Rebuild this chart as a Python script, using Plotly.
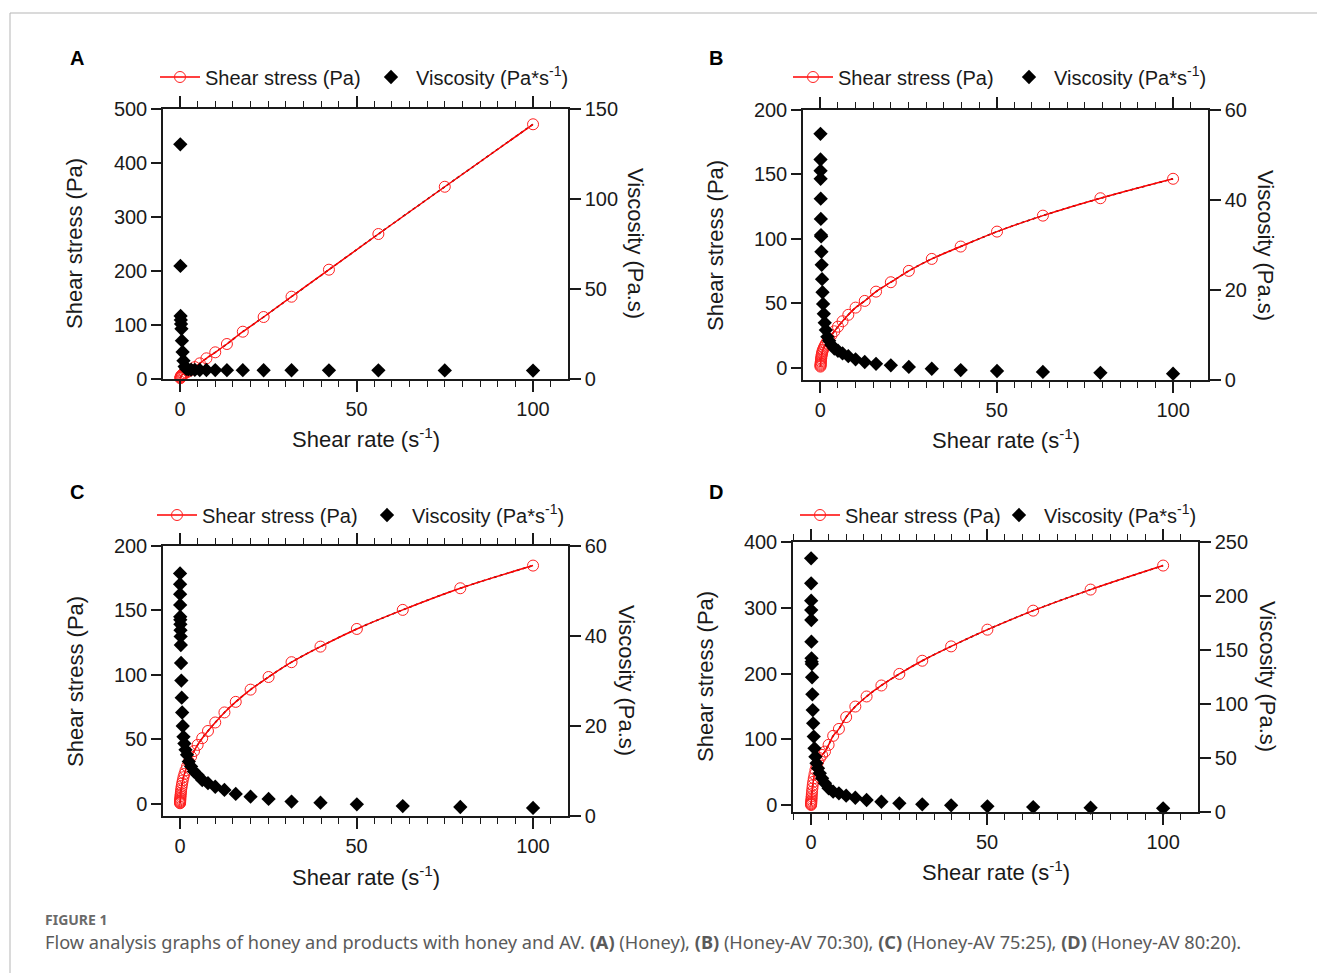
import plotly.graph_objects as go

W, H = 1317, 973
FONT = "Liberation Sans, Arial, sans-serif"
INK = "#1a1a1a"

# ---------------- data ----------------
# Panel A (Honey)
rate_A = [0.1, 0.133, 0.178, 0.237, 0.316, 0.422, 0.562, 0.75, 1.0, 1.33, 1.78, 2.37,
          3.16, 4.22, 5.62, 7.5, 10.0, 13.3, 17.8, 23.7, 31.6, 42.2, 56.2, 75.0, 100.0]
stress_A = [1.5, 2.5, 3.5, 4.5, 5.5, 6.5, 7.5, 8.5, 9.5, 10.5, 12.0, 14.0,
            17.0, 22.0, 29.0, 38.3, 49.4, 64.8, 87.6, 114.8, 152.4, 202.4, 268.5, 356.0, 471.7]
visc_A = [130.4, 62.8, 35.0, 32.8, 30.6, 27.9, 21.3, 15.0, 10.2, 6.9, 5.6, 5.3,
          5.2, 5.1, 5.0, 5.0, 4.95, 4.9, 4.9, 4.85, 4.85, 4.8, 4.8, 4.75, 4.7]

# Panel B (Honey-AV 70:30)
rate_B = [0.0501, 0.0631, 0.0794, 0.1, 0.126, 0.158, 0.2, 0.251, 0.316, 0.398, 0.501, 0.631,
          0.794, 1.0, 1.26, 1.58, 2.0, 2.51, 3.16, 3.98, 5.01, 6.31, 7.94, 10.0, 12.6, 15.8,
          20.0, 25.1, 31.6, 39.8, 50.1, 63.1, 79.4, 100.0]
stress_B = [0.8, 1.5, 2.2, 3.0, 3.9, 4.9, 6.0, 7.2, 8.5, 9.9, 11.3, 12.7,
            14.0, 15.5, 17.0, 18.6, 20.5, 22.6, 25.2, 28.2, 31.8, 36.0, 41.0, 46.6, 51.8, 59.0,
            66.3, 75.1, 84.4, 94.0, 105.6, 118.0, 131.5, 146.6]
visc_B = [54.7, 49.0, 46.5, 44.7, 40.3, 35.8, 32.2, 31.9, 28.5, 25.6, 22.4, 19.5,
          16.9, 14.7, 12.7, 11.1, 9.6, 8.7, 7.8, 7.0, 6.5, 5.9, 5.3, 4.6, 4.0, 3.6,
          3.25, 2.9, 2.5, 2.2, 2.0, 1.8, 1.6, 1.4]

# Panel C (Honey-AV 75:25)
rate_C = [0.0316, 0.0398, 0.0501, 0.0631, 0.0794, 0.1, 0.126, 0.158, 0.2, 0.251, 0.316, 0.398,
          0.501, 0.631, 0.794, 1.0, 1.26, 1.58, 2.0, 2.51, 3.16, 3.98, 5.01, 6.31, 7.94, 10.0,
          12.6, 15.8, 20.0, 25.1, 31.6, 39.8, 50.1, 63.1, 79.4, 100.0]
stress_C = [0.3, 0.8, 1.3, 1.9, 2.6, 3.5, 4.5, 5.7, 7.0, 8.4, 10.0, 11.8,
            13.7, 15.8, 18.0, 20.5, 23.0, 25.8, 28.9, 32.6, 36.5, 40.8, 45.6, 50.8, 56.4, 63.0,
            70.8, 79.0, 88.5, 98.3, 109.8, 121.9, 135.6, 150.4, 167.2, 184.8]
visc_C = [53.9, 51.5, 49.3, 46.9, 44.3, 43.6, 42.6, 41.3, 39.9, 38.0, 34.0, 30.1,
          26.3, 23.0, 20.0, 17.6, 16.1, 14.7, 13.6, 12.1, 11.0, 9.9, 9.1, 8.0, 7.3, 6.5,
          5.8, 4.9, 4.3, 3.8, 3.2, 2.96, 2.6, 2.2, 2.0, 1.8]

# Panel D (Honey-AV 80:20)
rate_D = [0.0398, 0.0501, 0.0631, 0.0794, 0.1, 0.126, 0.158, 0.2, 0.251, 0.316, 0.398, 0.501,
          0.631, 0.794, 1.0, 1.26, 1.58, 2.0, 2.51, 3.16, 3.98, 5.01, 6.31, 7.94, 10.0, 12.6,
          15.8, 20.0, 25.1, 31.6, 39.8, 50.1, 63.1, 79.4, 100.0]
stress_D = [0.5, 1.5, 2.8, 4.2, 6.0, 8.0, 10.5, 13.5, 17.0, 21.0, 25.5, 30.5,
            35.5, 41.0, 47.0, 53.5, 60.0, 66.0, 71.5, 76.5, 81.6, 91.8, 105.5, 116.0, 134.0, 150.0,
            165.3, 182.0, 199.6, 219.6, 241.4, 266.8, 295.7, 327.7, 364.2]
visc_D = [234.9, 211.7, 195.7, 187.0, 177.8, 157.7, 142.3, 139.2, 137.0, 124.7, 109.0, 94.4,
          82.1, 69.8, 59.0, 51.2, 45.1, 40.4, 35.8, 31.2, 26.6, 21.9, 18.8, 17.3, 15.1, 13.2,
          11.1, 9.5, 8.0, 7.1, 6.2, 5.3, 4.6, 4.0, 3.4]

x_ticks = [0, 50, 100]
left_ticks_A = [0, 100, 200, 300, 400, 500]
right_ticks_A = [0, 50, 100, 150]
left_ticks_BC = [0, 50, 100, 150, 200]
right_ticks_BC = [0, 20, 40, 60]
left_ticks_D = [0, 100, 200, 300, 400]
right_ticks_D = [0, 50, 100, 150, 200, 250]

labels = ["A", "B", "C", "D"]
stress_name = "Shear stress (Pa)"
visc_name = "Viscosity (Pa*s<sup>-1</sup>)"
x_title = "Shear rate (s<sup>-1</sup>)"
yl_title = "Shear stress (Pa)"
yr_title = "Viscosity (Pa.s)"
caption_head = "FIGURE 1"
caption = ("Flow analysis graphs of honey and products with honey and AV. <b>(A)</b> (Honey), "
           "<b>(B)</b> (Honey-AV 70:30), <b>(C)</b> (Honey-AV 75:25), <b>(D)</b> (Honey-AV 80:20).")

# ---------------- layout configuration (pixels) ----------------
panels = [
    dict(rate=rate_A, stress=stress_A, visc=visc_A, box=(163, 568, 109, 379),
         xr=[-4.8, 109.9], yl=[0, 500], yr=[0, 150], ylt=left_ticks_A, yrt=right_ticks_A,
         letter=(77, 58), leg1=155, leg2=366, legy=77,
         ylt_pos=(75, 244), yrt_pos=(636, 243), xt_pos=(366, 438)),
    dict(rate=rate_B, stress=stress_B, visc=visc_B, box=(803, 1208, 110, 380),
         xr=[-4.9, 109.9], yl=[-9.6, 200], yr=[0, 60], ylt=left_ticks_BC, yrt=right_ticks_BC,
         letter=(716, 58), leg1=788, leg2=1004, legy=77,
         ylt_pos=(715, 246), yrt_pos=(1266, 245), xt_pos=(1006, 439)),
    dict(rate=rate_C, stress=stress_C, visc=visc_C, box=(163, 568, 546, 816),
         xr=[-4.8, 109.9], yl=[-9.6, 200], yr=[0, 60], ylt=left_ticks_BC, yrt=right_ticks_BC,
         letter=(77, 492), leg1=152, leg2=362, legy=515,
         ylt_pos=(75, 682), yrt_pos=(627, 680), xt_pos=(366, 876)),
    dict(rate=rate_D, stress=stress_D, visc=visc_D, box=(793, 1198, 542, 812),
         xr=[-5.1, 109.9], yl=[-10.2, 400], yr=[0, 250], ylt=left_ticks_D, yrt=right_ticks_D,
         letter=(716, 492), leg1=795, leg2=994, legy=515,
         ylt_pos=(705, 677), yrt_pos=(1268, 676), xt_pos=(996, 871)),
]

def px(x):
    return x / W

def py(y):
    return 1 - y / H

def legend_id(k):
    return "legend" if k == 1 else f"legend{k}"

fig = go.Figure()
layout = dict(width=W, height=H, margin=dict(l=0, r=0, t=0, b=0, pad=0, autoexpand=False),
              paper_bgcolor="white", plot_bgcolor="white",
              font=dict(family=FONT, size=20, color=INK), showlegend=True)
annotations = []
shapes = []

tickfont = dict(family=FONT, size=20, color=INK)
for i, p in enumerate(panels):
    n = i + 1
    xa = "x" if n == 1 else f"x{n}"
    yl_n = 2 * i + 1
    yr_n = 2 * i + 2
    yla = "y" if yl_n == 1 else f"y{yl_n}"
    yra = f"y{yr_n}"
    leg_s = legend_id(2 * i + 1)
    leg_v = legend_id(2 * i + 2)
    x0, x1, y0, y1 = p["box"]

    fig.add_trace(go.Scatter(x=p["rate"], y=p["stress"], mode="lines", xaxis=xa, yaxis=yla,
                             line=dict(color="black", width=1.5, dash="dot", shape="spline"),
                             showlegend=False, hoverinfo="skip", cliponaxis=False))
    fig.add_trace(go.Scatter(x=p["rate"], y=p["stress"], mode="lines+markers", name=stress_name,
                             xaxis=xa, yaxis=yla, legend=leg_s,
                             line=dict(color="#ff0000", width=1.5, shape="spline"),
                             marker=dict(symbol="circle-open", size=11, color="#ff2020",
                                         line=dict(width=1)),
                             cliponaxis=False))
    fig.add_trace(go.Scatter(x=p["rate"], y=p["visc"], mode="markers", name=visc_name,
                             xaxis=xa, yaxis=yra, legend=leg_v,
                             marker=dict(symbol="diamond", size=11, color="black"),
                             cliponaxis=False))

    layout["xaxis" if n == 1 else f"xaxis{n}"] = dict(
        domain=[px(x0), px(x1)], anchor=yla, range=p["xr"], tickvals=x_ticks,
        ticks="outside", ticklen=11, tickwidth=1.5, tickcolor=INK,
        showline=True, linecolor=INK, linewidth=1.5, mirror="ticks",
        showgrid=False, zeroline=False, tickfont=tickfont, automargin=False,
        minor=dict(dtick=5, tick0=0, ticks="outside", ticklen=6, tickwidth=1.2,
                   tickcolor=INK, showgrid=False))
    layout["yaxis" if yl_n == 1 else f"yaxis{yl_n}"] = dict(
        domain=[py(y1), py(y0)], anchor=xa, range=p["yl"], tickvals=p["ylt"],
        ticks="outside", ticklen=10, tickwidth=1.5, tickcolor=INK,
        showline=True, linecolor=INK, linewidth=1.5, showgrid=False, zeroline=False,
        tickfont=tickfont, automargin=False)
    layout[f"yaxis{yr_n}"] = dict(
        overlaying=yla, side="right", anchor=xa, range=p["yr"], tickvals=p["yrt"],
        ticks="outside", ticklen=11, tickwidth=1.5, tickcolor=INK,
        showline=True, linecolor=INK, linewidth=1.5, showgrid=False, zeroline=False,
        tickfont=tickfont, automargin=False)
    for lid, lx in ((leg_s, p["leg1"]), (leg_v, p["leg2"])):
        layout[lid] = dict(orientation="h", x=px(lx), xanchor="left",
                           y=py(p["legy"]), yanchor="middle", bgcolor="rgba(0,0,0,0)",
                           font=dict(family=FONT, size=20, color=INK), itemwidth=40)

    lx, ly = p["letter"]
    annotations.append(dict(text=f"<b>{labels[i]}</b>", x=px(lx), y=py(ly), xref="paper",
                            yref="paper", showarrow=False, xanchor="center", yanchor="middle",
                            font=dict(family=FONT, size=20, color="black")))
    tx, ty = p["ylt_pos"]
    annotations.append(dict(text=yl_title, x=px(tx), y=py(ty), xref="paper", yref="paper",
                            showarrow=False, textangle=-90, xanchor="center", yanchor="middle",
                            font=dict(family=FONT, size=22, color=INK)))
    tx, ty = p["yrt_pos"]
    annotations.append(dict(text=yr_title, x=px(tx), y=py(ty), xref="paper", yref="paper",
                            showarrow=False, textangle=90, xanchor="center", yanchor="middle",
                            font=dict(family=FONT, size=22, color=INK)))
    tx, ty = p["xt_pos"]
    annotations.append(dict(text=x_title, x=px(tx), y=py(ty), xref="paper", yref="paper",
                            showarrow=False, xanchor="center", yanchor="middle",
                            font=dict(family=FONT, size=22, color=INK)))

annotations.append(dict(text=f"<b>{caption_head}</b>", x=px(43), y=py(919), xref="paper",
                        yref="paper", showarrow=False, xanchor="left", yanchor="middle",
                        font=dict(family="Noto Sans", size=14, color="#6a6a6a")))
annotations.append(dict(text=caption, x=px(43), y=py(942), xref="paper", yref="paper",
                        showarrow=False, xanchor="left", yanchor="middle",
                        font=dict(family="Noto Sans", size=18.2, color="#5a5a5a")))

shapes.append(dict(type="line", xref="paper", yref="paper", x0=px(10), x1=1.0,
                   y0=py(13), y1=py(13), line=dict(color="#b5b5b5", width=1)))
shapes.append(dict(type="line", xref="paper", yref="paper", x0=px(10), x1=px(10),
                   y0=py(13), y1=0.0, line=dict(color="#b5b5b5", width=1)))

layout["annotations"] = annotations
layout["shapes"] = shapes
fig.update_layout(**layout)

fig.write_html("out.html", config={"displayModeBar": False},
               post_script="document.body.style.margin='0';document.body.style.overflow='hidden';")
